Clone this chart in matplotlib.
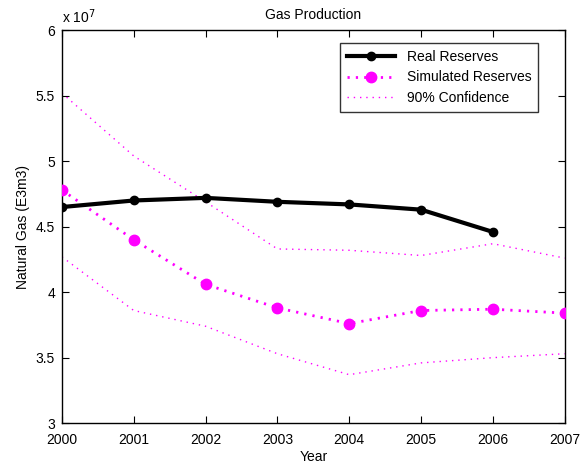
import matplotlib
matplotlib.use('Agg')
import matplotlib.pyplot as plt
import numpy as np

plt.rcParams['font.family'] = ['Liberation Sans', 'DejaVu Sans']

years = [2000, 2001, 2002, 2003, 2004, 2005, 2006, 2007]
# values in units of 1e7 E3m3
real_years = [2000, 2001, 2002, 2003, 2004, 2005, 2006]
real_reserves = [4.65, 4.70, 4.72, 4.69, 4.67, 4.63, 4.46]
sim_reserves = [4.78, 4.40, 4.06, 3.88, 3.76, 3.86, 3.87, 3.84]
conf_upper = [5.52, 5.04, 4.69, 4.33, 4.32, 4.28, 4.37, 4.26]
conf_lower = [4.27, 3.86, 3.74, 3.53, 3.37, 3.46, 3.50, 3.53]

fig = plt.figure(figsize=(5.84, 4.65), dpi=100)
ax = fig.add_axes([0.106, 0.090, 0.861, 0.845])

ax.plot(real_years, real_reserves, color='black', linewidth=3, marker='o',
		markersize=6, label='Real Reserves', zorder=4)
ax.plot(years, sim_reserves, color='#ff00ff', linewidth=2, linestyle=(0, (0.8, 2.2)),
		marker='o', markersize=7.5, label='Simulated Reserves', zorder=3)
ax.plot(years, conf_upper, color='#ff00ff', linewidth=1, linestyle=(0, (1, 3.5)),
		label='90% Confidence', zorder=2)
ax.plot(years, conf_lower, color='#ff00ff', linewidth=1, linestyle=(0, (1, 3.5)), zorder=2)

ax.set_xlim(2000, 2007)
ax.set_ylim(3, 6)
ax.set_xticks(years)
ax.set_yticks([3, 3.5, 4, 4.5, 5, 5.5, 6])
ax.set_yticklabels(['3', '3.5', '4', '4.5', '5', '5.5', '6'])
ax.tick_params(direction='in', top=True, right=True, labelsize=10, length=5)
ax.tick_params(axis='x', pad=7)
ax.tick_params(axis='y', pad=5)
for s in ax.spines.values():
	s.set_linewidth(1)

ax.text(0.0, 1.01, 'x 10$^7$', transform=ax.transAxes, fontsize=10, ha='left', va='bottom')
ax.set_title('Gas Production', fontsize=10, pad=8)
ax.set_xlabel('Year', fontsize=10, labelpad=2)
ax.set_ylabel('Natural Gas (E3m3)', fontsize=10)

leg = ax.legend(loc='upper right', bbox_to_anchor=(0.947, 0.967), fancybox=False,
				edgecolor='black', fontsize=10, borderaxespad=0, handlelength=3.5,
				labelspacing=0.45, borderpad=0.5)
leg.get_frame().set_linewidth(1)

fig.savefig('out.png', dpi=100)
